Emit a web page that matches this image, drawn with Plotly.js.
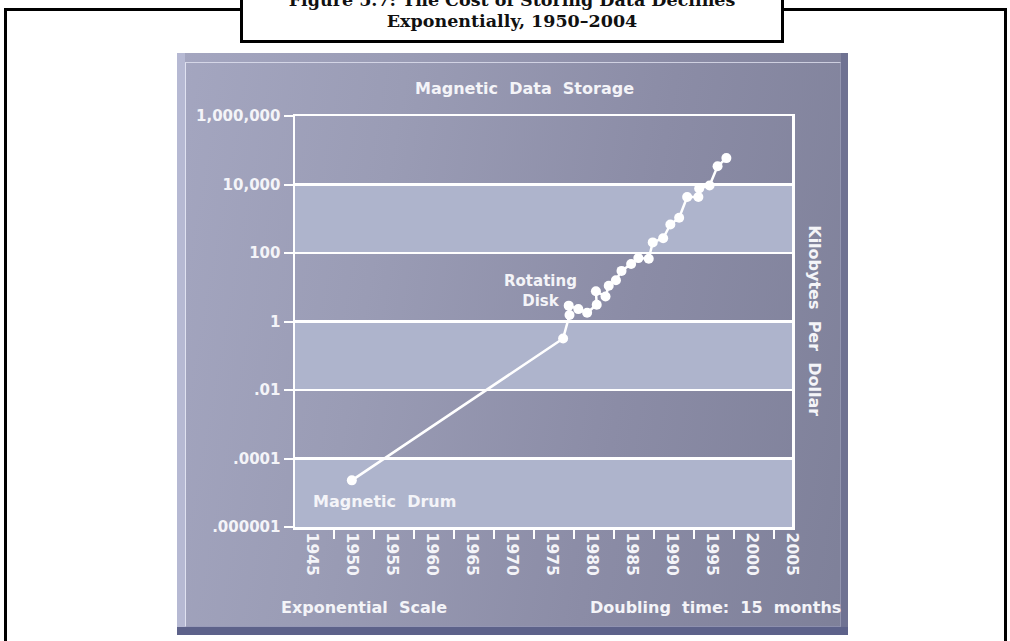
<!DOCTYPE html>
<html>
<head>
<meta charset="utf-8">
<script src="https://cdn.plot.ly/plotly-3.0.1.min.js"></script>
<style>
  html, body { margin: 0; padding: 0; background: #ffffff; width: 1010px; height: 641px; overflow: hidden; }
  #frame { position: absolute; left: 4px; top: 8px; width: 1003px; height: 660px; border: 3px solid #000; box-sizing: border-box; }
  #titlebox { position: absolute; left: 240px; top: -6px; width: 544px; height: 49px; border: 3px solid #000; background: #fff; box-sizing: border-box;
    font-family: "DejaVu Serif", serif; font-weight: bold; font-size: 17.5px; color: #111; text-align: center; line-height: 21px; }
  #titlebox div { position: absolute; left: 0; right: 0; }
  #panel { position: absolute; left: 177px; top: 53px; width: 671px; height: 582px;
    background: linear-gradient(100deg, #a4a6c0 0%, #9a9cb5 30%, #8b8ca6 65%, #7e8099 100%);
    box-shadow: inset 0 -8px 0 #5d628a, inset -7px 0 0 #6f7292, inset 8px 0 0 #b6b9d3; }
  #inner { position: absolute; left: 8px; top: 9px; right: 7px; bottom: 8px;
    border-top: 1.5px solid rgba(230,232,245,0.75); border-left: 1.5px solid rgba(235,237,250,0.85);
    border-right: 1px solid rgba(160,163,190,0.6); border-bottom: 1px solid rgba(150,153,185,0.6); }
  #chart { position: absolute; left: 0; top: 0; width: 1010px; height: 641px; }
</style>
</head>
<body>
<div id="frame"></div>
<div id="titlebox">
  <div style="top:-7px;">Figure 5.7: The Cost of Storing Data Declines</div>
  <div style="top:14px;">Exponentially, 1950–2004</div>
</div>
<div id="panel"><div id="inner"></div></div>
<div id="chart"></div>
<script>
// Data (year, kilobytes per dollar)
const years = [1950, 1976.4, 1977.2, 1977.1, 1978.3, 1979.4, 1980.6, 1980.5, 1981.7, 1982.1, 1983.0, 1983.7, 1984.9, 1985.8, 1987.1, 1987.6, 1988.9, 1989.8, 1990.9, 1991.9, 1993.3, 1993.4, 1994.7, 1995.7, 1996.8];
const kbPerDollar = [2.3e-5, 0.32, 1.55, 2.9, 2.3, 1.8, 3.1, 7.6, 5.4, 11, 16, 30, 48, 71, 68, 204, 270, 680, 1070, 4300, 4300, 7600, 9300, 34000, 59000];

// Axis ticks
const yTickVals = [1e-6, 1e-4, 1e-2, 1, 100, 1e4, 1e6];
const yTickText = ['.000001', '.0001', '.01', '1', '100', '10,000', '1,000,000'];
const xTickVals = [1945, 1950, 1955, 1960, 1965, 1970, 1975, 1980, 1985, 1990, 1995, 2000, 2005];
const xTickMarks = [1947.75, 1952.75, 1957.75, 1962.75, 1967.75, 1972.75, 1977.75, 1982.75, 1987.75, 1992.75, 1997.75, 2002.75];

// Light horizontal bands (low, high)
const bandLow = [100, 0.01, 1e-6];
const bandHigh = [1e4, 1, 1e-4];

const textColor = '#f4f4f8';
const fontFam = '"DejaVu Sans", Verdana, sans-serif';
const sp = ' \u00a0';

const bandShapes = bandLow.map((lo, i) => ({
  type: 'rect', xref: 'paper', yref: 'y', x0: 0, x1: 1, y0: lo, y1: bandHigh[i],
  fillcolor: '#aeb4cc', line: { width: 0 }, layer: 'below'
}));

const trace = {
  x: years, y: kbPerDollar, type: 'scatter', mode: 'lines+markers',
  line: { color: '#ffffff', width: 2.5 },
  marker: { color: '#ffffff', size: 10 },
  hoverinfo: 'skip'
};

function ann(text, x, y, size, extra) {
  return Object.assign({ text: text, xref: 'paper', yref: 'paper', x: x, y: y, xanchor: 'center', yanchor: 'middle',
    showarrow: false, font: { size: size, color: textColor, family: fontFam, weight: 'bold' } }, extra || {});
}

const layout = {
  width: 1010, height: 641,
  margin: { l: 295, r: 218, t: 116, b: 114 },
  paper_bgcolor: 'rgba(0,0,0,0)', plot_bgcolor: 'rgba(0,0,0,0)',
  showlegend: false,
  font: { family: fontFam, color: textColor, size: 15, weight: 'bold' },
  xaxis: {
    range: [1942.9, 2005], tickmode: 'array', tickvals: xTickVals,
    ticktext: xTickVals.map(String), tickangle: 90, ticks: '',
    tickfont: { family: fontFam, size: 15.5, color: textColor, weight: 'bold' },
    showgrid: false, zeroline: false,
    showline: true, linecolor: '#ffffff', linewidth: 2.5, mirror: true,
    minor: { tickmode: 'array', tickvals: xTickMarks, ticks: 'outside', ticklen: 9, tickwidth: 2, tickcolor: '#ffffff', showgrid: false }
  },
  yaxis: {
    type: 'log', range: [-6, 6], tickmode: 'array', tickvals: yTickVals, ticktext: yTickText,
    ticks: 'outside', ticklen: 9, tickwidth: 2, tickcolor: '#ffffff',
    tickfont: { family: fontFam, size: 15, color: textColor, weight: 'bold' },
    showgrid: true, gridcolor: '#ffffff', gridwidth: 2.5, zeroline: false,
    showline: true, linecolor: '#ffffff', linewidth: 2.5, mirror: true
  },
  shapes: bandShapes,
  annotations: [
    ann('Magnetic' + sp + 'Data' + sp + 'Storage', 0.461, 1.068, 16),
    ann('Kilobytes' + sp + 'Per' + sp + 'Dollar', 1.046, 0.501, 16, { textangle: 90 }),
    ann('Exponential' + sp + 'Scale', 0.139, -0.197, 16),
    ann('Doubling' + sp + 'time:' + sp + '15' + sp + 'months', 1.103, -0.197, 16, { xanchor: 'right' }),
    ann('Rotating<br>Disk', 0.493, 0.574, 15),
    ann('Magnetic' + sp + 'Drum', 0.181, 0.061, 16)
  ]
};

Plotly.newPlot('chart', [trace], layout, { staticPlot: true, displayModeBar: false });
</script>
</body>
</html>
